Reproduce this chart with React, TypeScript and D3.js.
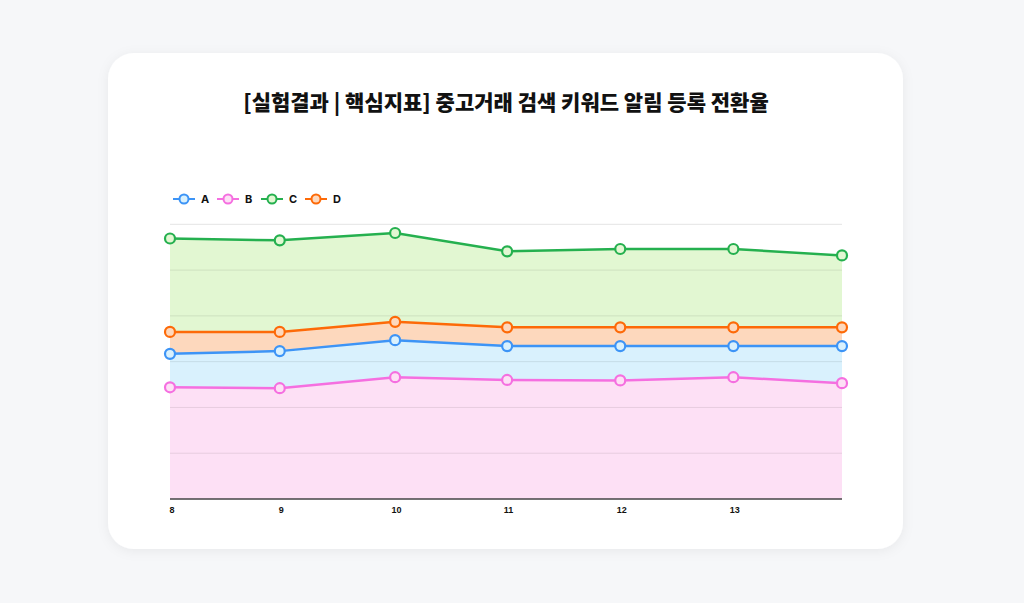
import React from "react";
import * as d3 from "d3";

const categories = ["8", "9", "10", "11", "12", "13", "14"];
const xValues = [8, 8.98, 10.01, 11.01, 12.02, 13.03, 14];
const tickLabels = ["8", "9", "10", "11", "12", "13", ""];
const seriesNames = ["A", "B", "C", "D"];
const seriesA = [31.7, 32.3, 34.7, 33.4, 33.4, 33.4, 33.4];
const seriesB = [24.4, 24.2, 26.6, 26.0, 25.9, 26.6, 25.3];
const seriesC = [56.9, 56.5, 58.1, 54.1, 54.6, 54.6, 53.2];
const seriesD = [36.5, 36.5, 38.7, 37.5, 37.5, 37.5, 37.5];
const yTicks = [0, 10, 20, 30, 40, 50, 60];

const lineColors: Record<string, string> = { A: "#3d94f6", B: "#f56fe0", C: "#25b04f", D: "#fd6a08" };
const fillColors: Record<string, string> = { A: "#d9f1fd", B: "#fde0f5", C: "#e2f7d2", D: "#fdd8bd" };

export default function App() {
  const W = 1024, H = 603;
  const x = d3.scaleLinear().domain([8, 14]).range([170, 842]);
  const y = d3.scaleLinear().domain([0, 60]).range([499, 224.3]);
  const data: Record<string, number[]> = { A: seriesA, B: seriesB, C: seriesC, D: seriesD };
  const drawOrder = ["C", "D", "A", "B"];
  const area = d3.area<number>()
    .x((_, i) => x(xValues[i]))
    .y0(y(0))
    .y1((d) => y(d));
  const line = d3.line<number>()
    .x((_, i) => x(xValues[i]))
    .y((d) => y(d));
  const font = "Inter, 'Noto Sans CJK KR', sans-serif";
  return (
    <svg width={W} height={H} style={{ position: "absolute", left: 0, top: 0, display: "block" }}>
      <defs>
        <filter id="sh" x="-10%" y="-10%" width="120%" height="120%">
          <feDropShadow dx="0" dy="2" stdDeviation="6" floodColor="#000" floodOpacity="0.06" />
        </filter>
      </defs>
      <rect x={0} y={0} width={W} height={H} fill="#f6f7f9" />
      <rect x={108} y={53} width={795} height={496} rx={26} fill="#fff" filter="url(#sh)" />
      <text x={506} y={110} textAnchor="middle" fontFamily="'Noto Sans CJK KR', sans-serif" fontWeight={900} fontSize={21} fill="#111">
        [실험결과 | 핵심지표] 중고거래 검색 키워드 알림 등록 전환율
      </text>
      {/* legend */}
      {seriesNames.map((s, i) => {
        const lx = 173 + i * 44;
        return (
          <g key={s}>
            <line x1={lx} x2={lx + 22} y1={199} y2={199} stroke={lineColors[s]} strokeWidth={2} />
            <circle cx={lx + 11} cy={199} r={4.5} fill={fillColors[s]} stroke={lineColors[s]} strokeWidth={2} />
            <text x={lx + 28} y={203} fontFamily={font} fontWeight={700} fontSize={11} fill="#111">{s}</text>
          </g>
        );
      })}
      {/* areas */}
      {drawOrder.map((s) => (
        <path key={"a" + s} d={area(data[s]) || ""} fill={fillColors[s]} />
      ))}
      {/* grid */}
      {yTicks.slice(1).map((t) => (
        <line key={t} x1={170} x2={842} y1={y(t)} y2={y(t)} stroke={t === 60 ? "#e4e4e4" : "#000"} strokeOpacity={t === 60 ? 1 : 0.09} strokeWidth={1} />
      ))}
      <line x1={170} x2={842} y1={y(0)} y2={y(0)} stroke="#444" strokeWidth={1.5} />
      {/* lines */}
      {drawOrder.map((s) => (
        <path key={"l" + s} d={line(data[s]) || ""} fill="none" stroke={lineColors[s]} strokeWidth={2.5} />
      ))}
      {drawOrder.map((s) =>
        data[s].map((v, i) => (
          <circle key={s + i} cx={x(xValues[i])} cy={y(v)} r={5} fill={fillColors[s]} stroke={lineColors[s]} strokeWidth={2.2} />
        ))
      )}
      {/* x labels */}
      {categories.map((c, i) => (
        <text key={c} x={x(xValues[i]) + (i === 0 ? 2 : 1.5)} y={513} textAnchor="middle" fontFamily="'Liberation Sans', Arial, sans-serif" fontWeight={700} fontSize={9} fill="#111">
          {tickLabels[i]}
        </text>
      ))}
    </svg>
  );
}
